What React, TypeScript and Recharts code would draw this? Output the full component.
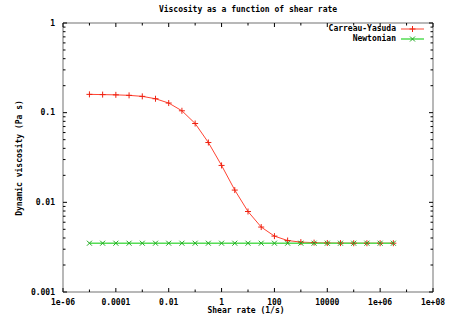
import { LineChart, Line, XAxis, YAxis } from 'recharts'

// shear rate (1/s) and viscosity (Pa s)
const SHEAR = [1e-5, 3.16e-5, 1e-4, 3.16e-4, 1e-3, 3.16e-3, 0.01, 0.0316, 0.1, 0.316, 1, 3.16, 10, 31.6, 100, 316, 1000, 3160, 1e4, 3.16e4, 1e5, 3.16e5, 1e6, 3.16e6]
const CARREAU = [0.16, 0.159, 0.158, 0.156, 0.152, 0.143, 0.128, 0.105, 0.0757, 0.0465, 0.0258, 0.0137, 0.0079, 0.0053, 0.0042, 0.00375, 0.0036, 0.00355, 0.00352, 0.00351, 0.0035, 0.0035, 0.0035, 0.0035]
const NEWTON = [0.0035, 0.0035, 0.0035, 0.0035, 0.0035, 0.0035, 0.0035, 0.0035, 0.0035, 0.0035, 0.0035, 0.0035, 0.0035, 0.0035, 0.0035, 0.0035, 0.0035, 0.0035, 0.0035, 0.0035, 0.0035, 0.0035, 0.0035, 0.0035]

const X_MAJOR = [1e-6, 1e-4, 1e-2, 1, 100, 1e4, 1e6, 1e8]
const X_LABELS = ['1e-06', '0.0001', '0.01', '1', '100', '10000', '1e+06', '1e+08']
const X_MINOR = [1e-5, 1e-3, 0.1, 10, 1000, 1e5, 1e7]
const Y_MAJOR = [0.001, 0.01, 0.1, 1]
const Y_LABELS = ['0.001', '0.01', '0.1', '1']
const Y_MINOR = [0.001, 0.01, 0.1].flatMap((d) => [2, 3, 4, 5, 6, 7, 8, 9].map((m) => m * d))

const data = SHEAR.map((x, i) => ({ x, cy: CARREAU[i], nw: NEWTON[i] }))

const FONT = '"DejaVu Sans Mono", monospace'
const RED = '#ff4433'
const GREEN = '#55dd55'
const BORDER = '#a0a0a0'

const same = (a: number, b: number) => Math.abs(Math.log10(a) - Math.log10(b)) < 1e-6
const majorIdx = (arr: number[], v: number) => arr.findIndex((m) => same(m, v))

const textStyle = { fontFamily: FONT, fontSize: 8, fontWeight: 700, fill: '#000' } as const

function XTick({ x, y, payload, top }: any) {
  const i = majorIdx(X_MAJOR, payload.value)
  const len = i >= 0 ? 4 : 2.5
  const dir = top ? 1 : -1
  return (
    <g>
      <line x1={x} x2={x} y1={y} y2={y + dir * len} stroke="#000" strokeWidth={1} />
      {!top && i >= 0 && (
        <text x={x} y={y + 10} textAnchor="middle" dominantBaseline="central" {...textStyle}>
          {X_LABELS[i]}
        </text>
      )}
    </g>
  )
}

function YTick({ x, y, payload, right }: any) {
  const i = majorIdx(Y_MAJOR, payload.value)
  const len = i >= 0 ? 4 : 2.5
  const dir = right ? -1 : 1
  return (
    <g>
      <line x1={x} x2={x + dir * len} y1={y} y2={y} stroke="#000" strokeWidth={1} />
      {!right && i >= 0 && (
        <text x={x - 8} y={y} textAnchor="end" dominantBaseline="central" {...textStyle}>
          {Y_LABELS[i]}
        </text>
      )}
    </g>
  )
}

const Plus = ({ cx, cy, color }: any) => (
  <g stroke={color} strokeWidth={1}>
    <line x1={cx - 3} x2={cx + 3} y1={cy} y2={cy} />
    <line x1={cx} x2={cx} y1={cy - 3} y2={cy + 3} />
  </g>
)

const Cross = ({ cx, cy, color }: any) => (
  <g stroke={color} strokeWidth={1}>
    <line x1={cx - 2.5} x2={cx + 2.5} y1={cy - 2.5} y2={cy + 2.5} />
    <line x1={cx - 2.5} x2={cx + 2.5} y1={cy + 2.5} y2={cy - 2.5} />
  </g>
)

const textDiv = {
  position: 'absolute',
  fontFamily: FONT,
  fontSize: 8,
  fontWeight: 700,
  color: '#000',
  whiteSpace: 'nowrap',
  lineHeight: '10px',
} as const

export default function App() {
  return (
    <div style={{ position: 'absolute', left: 0, top: 0, width: 456, height: 325, background: '#fff' }}>
      <LineChart width={456} height={325} data={data} margin={{ top: 22, right: 22, bottom: 0, left: 0 }}>
        <XAxis
          xAxisId="b"
          dataKey="x"
          type="number"
          scale="log"
          domain={[1e-6, 1e8]}
          ticks={[...X_MAJOR, ...X_MINOR]}
          interval={0}
          allowDataOverflow
          height={33}
          tickSize={0}
          tickMargin={0}
          axisLine={{ stroke: BORDER, strokeWidth: 1.5 }}
          tickLine={false}
          tick={<XTick />}
        />
        <XAxis
          xAxisId="t"
          orientation="top"
          dataKey="x"
          type="number"
          scale="log"
          domain={[1e-6, 1e8]}
          ticks={[...X_MAJOR, ...X_MINOR]}
          interval={0}
          allowDataOverflow
          height={1}
          tickSize={0}
          tickMargin={0}
          axisLine={{ stroke: BORDER, strokeWidth: 1.5 }}
          tickLine={false}
          tick={<XTick top />}
        />
        <YAxis
          yAxisId="l"
          type="number"
          scale="log"
          domain={[0.001, 1]}
          ticks={[...Y_MAJOR, ...Y_MINOR]}
          interval={0}
          allowDataOverflow
          width={63}
          tickSize={0}
          tickMargin={0}
          axisLine={{ stroke: BORDER, strokeWidth: 1.5 }}
          tickLine={false}
          tick={<YTick />}
        />
        <YAxis
          yAxisId="r"
          orientation="right"
          type="number"
          scale="log"
          domain={[0.001, 1]}
          ticks={[...Y_MAJOR, ...Y_MINOR]}
          interval={0}
          allowDataOverflow
          width={1}
          tickSize={0}
          tickMargin={0}
          axisLine={{ stroke: BORDER, strokeWidth: 1.5 }}
          tickLine={false}
          tick={<YTick right />}
        />
        <Line
          xAxisId="b"
          yAxisId="l"
          dataKey="cy"
          type="linear"
          stroke={RED}
          strokeWidth={1}
          dot={(p: any) => <Plus key={p.index} cx={p.cx} cy={p.cy} color="#ee2211" />}
          isAnimationActive={false}
        />
        <Line
          xAxisId="b"
          yAxisId="l"
          dataKey="nw"
          type="linear"
          stroke={GREEN}
          strokeWidth={1.5}
          dot={(p: any) => <Cross key={p.index} cx={p.cx} cy={p.cy} color="#22aa22" />}
          isAnimationActive={false}
        />
      </LineChart>

      <div style={{ ...textDiv, left: 0, width: 496, top: 5, textAlign: 'center' }}>
        Viscosity as a function of shear rate
      </div>
      <div style={{ ...textDiv, left: 0, width: 492, top: 306, textAlign: 'center' }}>Shear rate (1/s)</div>
      <div
        style={{
          ...textDiv,
          left: 20,
          top: 158,
          transform: 'translate(-50%, -50%) rotate(-90deg)',
        }}
      >
        Dynamic viscosity (Pa s)
      </div>

      <div style={{ ...textDiv, right: 60, top: 24, textAlign: 'right' }}>
        <div>Carreau-Yasuda</div>
        <div>Newtonian</div>
      </div>
      <svg style={{ position: 'absolute', left: 400, top: 24 }} width={26} height={20}>
        <line x1={1} x2={24} y1={5} y2={5} stroke={RED} strokeWidth={1} />
        <Plus cx={12.5} cy={5} color="#ee2211" />
        <line x1={1} x2={24} y1={15} y2={15} stroke={GREEN} strokeWidth={1.5} />
        <Cross cx={12.5} cy={15} color="#22aa22" />
      </svg>
    </div>
  )
}
